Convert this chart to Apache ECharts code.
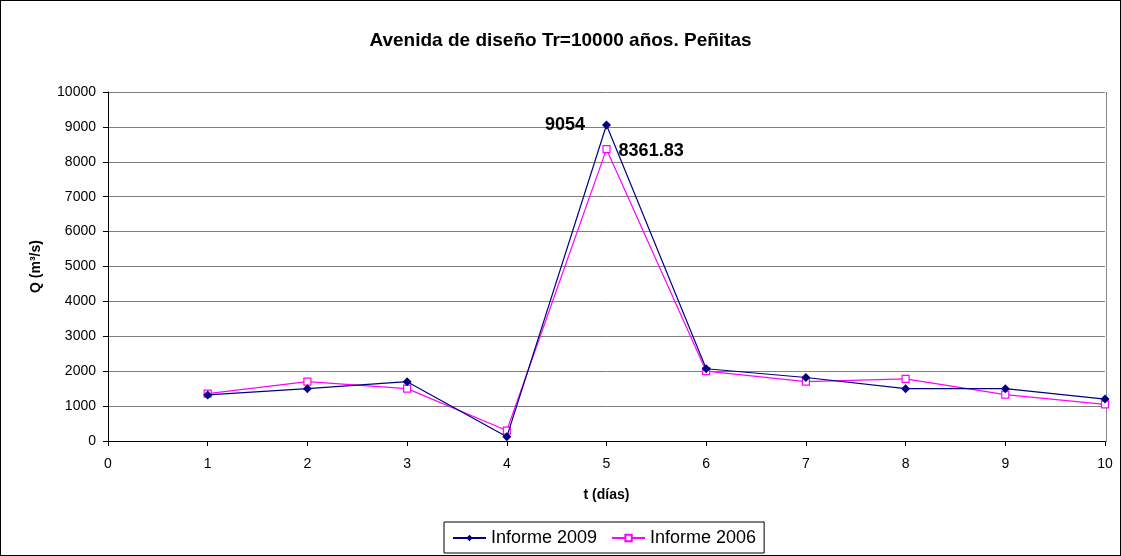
<!DOCTYPE html>
<html>
<head>
<meta charset="utf-8">
<script src="https://cdn.jsdelivr.net/npm/echarts@6/dist/echarts.min.js"></script>
<style>
  html, body { margin: 0; padding: 0; background: #fff; }
  #chart { width: 1121px; height: 556px; box-sizing: border-box; border: 1px solid #000; }
</style>
</head>
<body>
<div id="chart"></div>
<script>
// Hidrograma de la avenida de diseño (Tr = 10000 años), presa Peñitas
const days = [1, 2, 3, 4, 5, 6, 7, 8, 9, 10];
const informe2009 = [1320, 1500, 1700, 120, 9054, 2070, 1820, 1500, 1500, 1200];
const informe2006 = [1360, 1700, 1500, 300, 8361.83, 2000, 1700, 1780, 1330, 1050];
const peakLabelIndex = 4;

const font = 'Liberation Sans, Arial, sans-serif';
const chart = echarts.init(document.getElementById('chart'));

function pairs(vals) { return days.map((d, i) => [d, vals[i]]); }

function withPeakLabel(vals, pos, offset) {
  return pairs(vals).map((p, i) => i === peakLabelIndex ? {
    value: p,
    label: {
      show: true, position: pos, offset: offset,
      formatter: String(vals[i]),
      fontFamily: font, fontWeight: 'bold', fontSize: 18, color: '#000'
    }
  } : p);
}

chart.setOption({
  animation: false,
  title: {
    text: 'Avenida de diseño Tr=10000 años. Peñitas',
    left: 'center', top: 25,
    textStyle: { fontFamily: font, fontWeight: 'bold', fontSize: 19, color: '#000' }
  },
  grid: { left: 107, right: 15, top: 91, bottom: 114 },
  legend: {
    bottom: 2, left: 443,
    data: ['Informe 2009', 'Informe 2006'],
    borderColor: '#000', borderWidth: 1, padding: [7, 8, 6, 8],
    itemWidth: 33, itemHeight: 8, itemGap: 14,
    textStyle: { fontFamily: font, fontSize: 18, color: '#000' }
  },
  xAxis: {
    type: 'value', min: 0, max: 10, interval: 1,
    name: 't (días)', nameLocation: 'middle', nameGap: 47,
    nameTextStyle: { fontFamily: font, fontWeight: 'bold', fontSize: 14, color: '#000' },
    axisLine: { lineStyle: { color: '#000', width: 1 } },
    axisTick: { inside: false, length: 5, lineStyle: { color: '#000' } },
    axisLabel: { fontFamily: font, fontSize: 14, color: '#000', margin: 16 },
    splitLine: { show: false }
  },
  yAxis: {
    type: 'value', min: 0, max: 10000, interval: 1000,
    name: 'Q (m³/s)', nameLocation: 'middle', nameGap: 65, nameRotate: 90,
    nameTextStyle: { fontFamily: font, fontWeight: 'bold', fontSize: 14, color: '#000' },
    axisLine: { show: true, lineStyle: { color: '#000', width: 1 } },
    axisTick: { show: true, length: 5, lineStyle: { color: '#000' } },
    axisLabel: {
      fontFamily: font, fontSize: 14, color: '#000', margin: 12,
      formatter: (v) => String(v)
    },
    splitLine: { show: true, lineStyle: { color: '#7f7f7f', width: 1 } }
  },
  series: [
    {
      name: 'Informe 2009', type: 'line',
      data: withPeakLabel(informe2009, 'left', [-12, 0]),
      symbol: 'diamond', symbolSize: 9,
      itemStyle: { color: '#000080' },
      lineStyle: { color: '#000080', width: 1.2 },
      z: 3
    },
    {
      name: 'Informe 2006', type: 'line',
      data: withPeakLabel(informe2006, 'right', [3, 2]),
      symbol: 'rect', symbolSize: 7,
      itemStyle: { color: '#fff', borderColor: '#ff00ff', borderWidth: 1.2 },
      lineStyle: { color: '#ff00ff', width: 1.2 },
      z: 2
    }
  ],
  graphic: [{
    type: 'line',
    shape: { x1: 1105.5, y1: 91, x2: 1105.5, y2: 441 },
    style: { stroke: '#8a8a8a', lineWidth: 1 }
  }]
});
</script>
</body>
</html>
